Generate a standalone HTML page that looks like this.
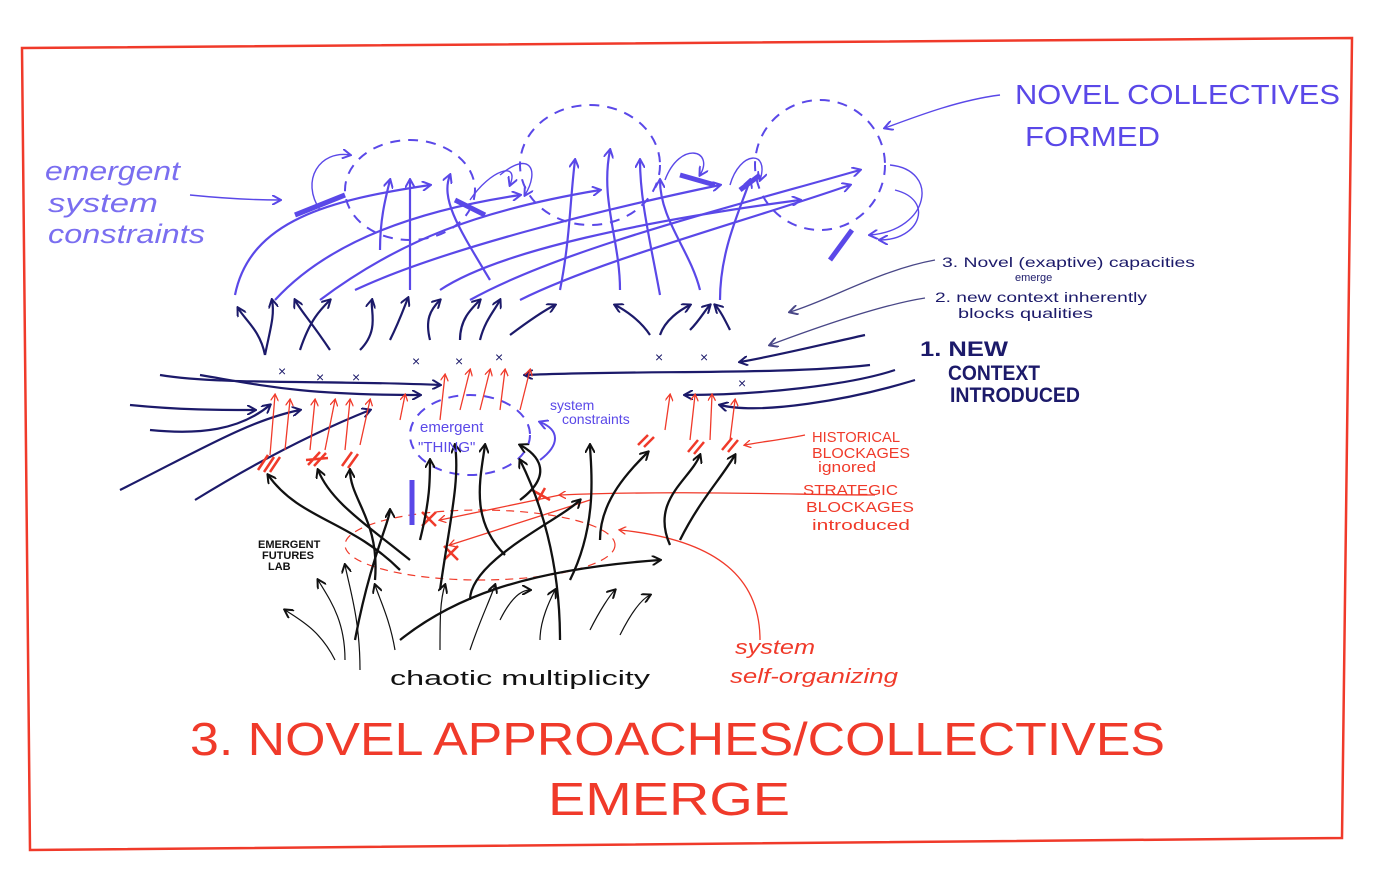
<!DOCTYPE html>
<html><head><meta charset="utf-8"><style>
html,body{margin:0;padding:0;background:#fff;}
svg{display:block}
text{font-family:"Liberation Sans",sans-serif;}
</style></head><body>
<svg width="1400" height="869" viewBox="0 0 1400 869" xmlns="http://www.w3.org/2000/svg">
<defs>
<marker id="ab" markerWidth="10" markerHeight="10" refX="8" refY="5" orient="auto" markerUnits="userSpaceOnUse"><path d="M0,0 L9,5 L0,10" fill="none" stroke="#5a48e8" stroke-width="2"/></marker>
<marker id="an" markerWidth="10" markerHeight="10" refX="8" refY="5" orient="auto" markerUnits="userSpaceOnUse"><path d="M0,0 L9,5 L0,10" fill="none" stroke="#1c1a6a" stroke-width="2"/></marker>
<marker id="ak" markerWidth="10" markerHeight="10" refX="8" refY="5" orient="auto" markerUnits="userSpaceOnUse"><path d="M0,0 L9,5 L0,10" fill="none" stroke="#111" stroke-width="2"/></marker>
<marker id="ar" markerWidth="8" markerHeight="8" refX="6" refY="4" orient="auto" markerUnits="userSpaceOnUse"><path d="M0,0 L7,4 L0,8" fill="none" stroke="#f03a2a" stroke-width="1.3"/></marker>
</defs>
<path d="M22,48 L1352,38 L1342,838 L30,850 Z" fill="none" stroke="#f03a2a" stroke-width="2.5"/>

<g fill="none" stroke="#5a48e8" stroke-width="2" stroke-dasharray="10,8">
<ellipse cx="410" cy="190" rx="65" ry="50"/>
<ellipse cx="590" cy="165" rx="70" ry="60"/>
<ellipse cx="820" cy="165" rx="65" ry="65"/>
<ellipse cx="470" cy="435" rx="60" ry="40"/>
</g>
<g fill="none" stroke="#f03a2a" stroke-width="1.2" stroke-dasharray="8,6">
<ellipse cx="480" cy="545" rx="135" ry="35"/>
</g>

<g fill="none" stroke="#5a48e8" stroke-width="2.2" marker-end="url(#ab)">
<path d="M235,295 C250,220 330,200 430,185"/>
<path d="M275,300 C330,240 420,210 520,195"/>
<path d="M320,300 C400,240 480,210 600,190"/>
<path d="M355,290 C440,250 600,210 720,185"/>
<path d="M440,290 C500,250 650,220 800,200"/>
<path d="M470,300 C560,250 720,210 860,170"/>
<path d="M520,300 C600,260 750,220 850,185"/>
<path d="M410,290 C410,250 410,220 410,180"/>
<path d="M560,290 C570,240 570,200 575,160"/>
<path d="M620,290 C620,240 600,200 610,150"/>
<path d="M660,295 C650,240 640,200 640,160"/>
<path d="M700,290 C690,250 660,220 660,180"/>
<path d="M720,300 C720,250 740,210 750,180"/>
<path d="M380,250 C380,220 385,200 390,180"/>
<path d="M490,280 C460,230 440,200 450,175"/>
</g>
<g fill="none" stroke="#5a48e8" stroke-width="1.4" marker-end="url(#ab)">
<path d="M320,210 C300,180 320,150 350,155"/>
<path d="M470,200 C490,170 520,160 510,185"/>
<path d="M500,175 C530,150 540,170 525,195"/>
<path d="M665,180 C680,140 715,150 700,175"/>
<path d="M730,185 C740,150 770,150 760,180"/>
<path d="M890,165 C940,170 930,230 870,235"/>
<path d="M895,190 C935,200 920,240 880,240"/>
<path d="M190,195 C220,198 250,200 280,200"/>
<path d="M1000,95 C960,100 920,115 885,128"/>
</g>
<g stroke="#5a48e8" stroke-width="5">
<path d="M295,215 L345,195"/><path d="M455,200 L485,215"/><path d="M680,175 L715,185"/>
<path d="M740,190 L760,175"/><path d="M830,260 L852,230"/><path d="M412,480 L412,525"/>
</g>

<g fill="none" stroke="#1c1a6a" stroke-width="2.2" marker-end="url(#an)">
<path d="M265,355 C260,330 245,320 238,308"/>
<path d="M265,355 C270,330 275,315 272,300"/>
<path d="M300,350 C310,320 320,310 330,300"/>
<path d="M330,350 C310,320 300,310 295,300"/>
<path d="M360,350 C380,330 370,310 372,300"/>
<path d="M390,340 C400,320 405,305 408,298"/>
<path d="M430,340 C425,320 430,310 440,300"/>
<path d="M460,340 C460,320 470,310 480,300"/>
<path d="M480,340 C485,320 495,310 500,300"/>
<path d="M510,335 C530,320 545,310 555,305"/>
<path d="M650,335 C640,320 625,310 615,305"/>
<path d="M660,335 C665,320 680,310 690,305"/>
<path d="M690,330 C700,320 705,310 710,305"/>
<path d="M730,330 C725,320 720,310 715,305"/>
<path d="M160,375 C220,385 330,380 440,385"/>
<path d="M200,375 C260,385 300,395 420,395"/>
<path d="M130,405 C180,410 220,410 255,410"/>
<path d="M150,430 C200,435 240,430 270,405"/>
<path d="M120,490 C200,450 250,420 300,410"/>
<path d="M195,500 C260,460 320,430 370,410"/>
<path d="M865,335 C820,345 780,355 740,362"/>
<path d="M870,365 C780,375 640,370 525,375"/>
<path d="M895,370 C850,385 760,395 685,395"/>
<path d="M915,380 C850,400 760,415 720,405"/>
</g>
<g fill="none" stroke="#1c1a6a" stroke-width="1.3" marker-end="url(#an)" opacity="0.8">
<path d="M935,260 C880,270 830,300 790,312"/>
<path d="M925,298 C880,305 810,330 770,345"/>
</g>
<g font-size="14" fill="#1c1a6a">
<text x="278" y="376">×</text><text x="316" y="382">×</text><text x="352" y="382">×</text>
<text x="412" y="366">×</text><text x="455" y="366">×</text><text x="495" y="362">×</text>
<text x="655" y="362">×</text><text x="700" y="362">×</text><text x="738" y="388">×</text>
</g>

<g fill="none" stroke="#f03a2a" stroke-width="1.3" marker-end="url(#ar)">
<path d="M270,455 L275,395"/><path d="M285,450 L290,400"/><path d="M310,450 L315,400"/>
<path d="M325,450 L335,400"/><path d="M345,450 L350,400"/><path d="M360,445 L370,400"/>
<path d="M400,420 L405,395"/><path d="M440,420 L445,375"/><path d="M460,410 L470,370"/>
<path d="M480,410 L490,370"/><path d="M500,410 L505,370"/><path d="M520,410 L530,370"/>
<path d="M665,430 L670,395"/><path d="M690,440 L695,395"/><path d="M710,440 L712,395"/>
<path d="M730,440 L735,400"/>
<path d="M875,495 C800,495 680,490 560,495"/>
<path d="M805,435 C780,440 760,442 745,445"/>
<path d="M760,640 C760,580 720,540 620,530"/>
<path d="M560,495 L440,520"/><path d="M590,500 L450,545"/>
</g>
<g stroke="#f03a2a" stroke-width="2.5">
<path d="M258,470 L268,455 M264,472 L274,457 M270,472 L280,457"/>
<path d="M308,465 L320,452 M314,466 L326,453 M306,460 L328,458"/>
<path d="M342,466 L352,452 M348,468 L358,454"/>
<path d="M638,445 L648,435 M644,447 L654,437"/>
<path d="M688,452 L698,440 M694,454 L704,442"/>
<path d="M722,450 L732,438 M728,452 L738,440"/>
<path d="M422,512 L436,526 M436,512 L422,526"/>
<path d="M444,546 L458,560 M458,546 L444,560"/>
<path d="M532,490 L550,500 M545,488 L537,502"/>
</g>

<g fill="none" stroke="#111" stroke-width="2.3" marker-end="url(#ak)">
<path d="M400,570 C350,520 300,520 268,475"/>
<path d="M410,560 C360,520 330,500 318,470"/>
<path d="M375,580 C380,520 350,500 350,470"/>
<path d="M420,540 C430,500 430,480 430,460"/>
<path d="M440,590 C450,520 460,480 455,445"/>
<path d="M505,555 C470,520 480,480 485,445"/>
<path d="M560,640 C560,560 540,500 520,460"/>
<path d="M570,580 C600,520 590,460 590,445"/>
<path d="M600,540 C600,500 630,470 648,452"/>
<path d="M670,545 C650,500 690,480 700,455"/>
<path d="M680,540 C700,500 720,480 735,455"/>
<path d="M400,640 C450,600 520,570 660,560"/>
<path d="M355,640 C370,560 390,520 390,510"/>
<path d="M470,600 C470,560 560,520 580,500"/>
<path d="M520,500 C560,470 530,450 520,445"/>
</g>
<g fill="none" stroke="#111" stroke-width="1.2" marker-end="url(#ak)">
<path d="M335,660 C320,630 300,620 285,610"/>
<path d="M345,660 C345,620 330,600 318,580"/>
<path d="M360,670 C360,620 350,590 345,565"/>
<path d="M395,650 C390,620 380,600 375,585"/>
<path d="M440,650 C440,620 440,600 445,585"/>
<path d="M470,650 C480,620 490,600 495,585"/>
<path d="M540,640 C540,620 550,600 555,590"/>
<path d="M590,630 C600,610 610,595 615,590"/>
<path d="M620,635 C630,615 640,600 650,595"/>
<path d="M500,620 C510,600 520,590 530,590"/>
</g>
<path d="M540,460 C560,445 560,430 540,422" fill="none" stroke="#5a48e8" stroke-width="2" marker-end="url(#ab)"/>

<text x="1015" y="104" font-size="28" fill="#5a48e8" textLength="325" lengthAdjust="spacingAndGlyphs">NOVEL COLLECTIVES</text>
<text x="1025" y="146" font-size="28" fill="#5a48e8" textLength="135" lengthAdjust="spacingAndGlyphs">FORMED</text>
<g font-size="27" fill="#7a6ef0" font-family="Liberation Serif" font-style="italic">
<text x="45" y="180" textLength="135" lengthAdjust="spacingAndGlyphs">emergent</text>
<text x="48" y="212" textLength="110" lengthAdjust="spacingAndGlyphs">system</text>
<text x="48" y="243" textLength="157" lengthAdjust="spacingAndGlyphs">constraints</text>
</g>
<g font-size="14" fill="#1c1a6a">
<text x="942" y="267" textLength="253" lengthAdjust="spacingAndGlyphs">3. Novel (exaptive) capacities</text>
<text x="1015" y="281" font-size="11">emerge</text>
<text x="935" y="302" textLength="212" lengthAdjust="spacingAndGlyphs">2. new context inherently</text>
<text x="958" y="318" textLength="135" lengthAdjust="spacingAndGlyphs">blocks qualities</text>
</g>
<g font-size="21" fill="#1c1a6a" font-weight="bold">
<text x="920" y="356" textLength="88" lengthAdjust="spacingAndGlyphs">1. NEW</text>
<text x="948" y="380" textLength="92" lengthAdjust="spacingAndGlyphs">CONTEXT</text>
<text x="950" y="402" textLength="130" lengthAdjust="spacingAndGlyphs">INTRODUCED</text>
</g>
<g font-size="14" fill="#5a48e8">
<text x="420" y="432" font-size="15">emergent</text>
<text x="418" y="452" font-size="15">"THING"</text>
<text x="550" y="410">system</text><text x="562" y="424">constraints</text>
</g>
<g font-size="15" fill="#f03a2a">
<text x="812" y="442" textLength="88" lengthAdjust="spacingAndGlyphs">HISTORICAL</text>
<text x="812" y="458" textLength="98" lengthAdjust="spacingAndGlyphs">BLOCKAGES</text>
<text x="818" y="472" textLength="58" lengthAdjust="spacingAndGlyphs">ignored</text>
<text x="803" y="495" textLength="95" lengthAdjust="spacingAndGlyphs">STRATEGIC</text>
<text x="806" y="512" textLength="108" lengthAdjust="spacingAndGlyphs">BLOCKAGES</text>
<text x="812" y="530" textLength="98" lengthAdjust="spacingAndGlyphs">introduced</text>
</g>
<g font-size="20" fill="#f03a2a" font-style="italic">
<text x="735" y="654" textLength="80" lengthAdjust="spacingAndGlyphs">system</text>
<text x="730" y="683" textLength="168" lengthAdjust="spacingAndGlyphs">self-organizing</text>
</g>
<g font-size="11" fill="#111" font-weight="bold">
<text x="258" y="548">EMERGENT</text><text x="262" y="559">FUTURES</text><text x="268" y="570">LAB</text>
</g>
<text x="390" y="685" font-size="20" fill="#111" textLength="260" lengthAdjust="spacingAndGlyphs">chaotic multiplicity</text>
<text x="190" y="755" font-size="46" fill="#f03a2a" textLength="975" lengthAdjust="spacingAndGlyphs">3. NOVEL APPROACHES/COLLECTIVES</text>
<text x="548" y="815" font-size="46" fill="#f03a2a" textLength="242" lengthAdjust="spacingAndGlyphs">EMERGE</text>
</svg>
</body></html>
